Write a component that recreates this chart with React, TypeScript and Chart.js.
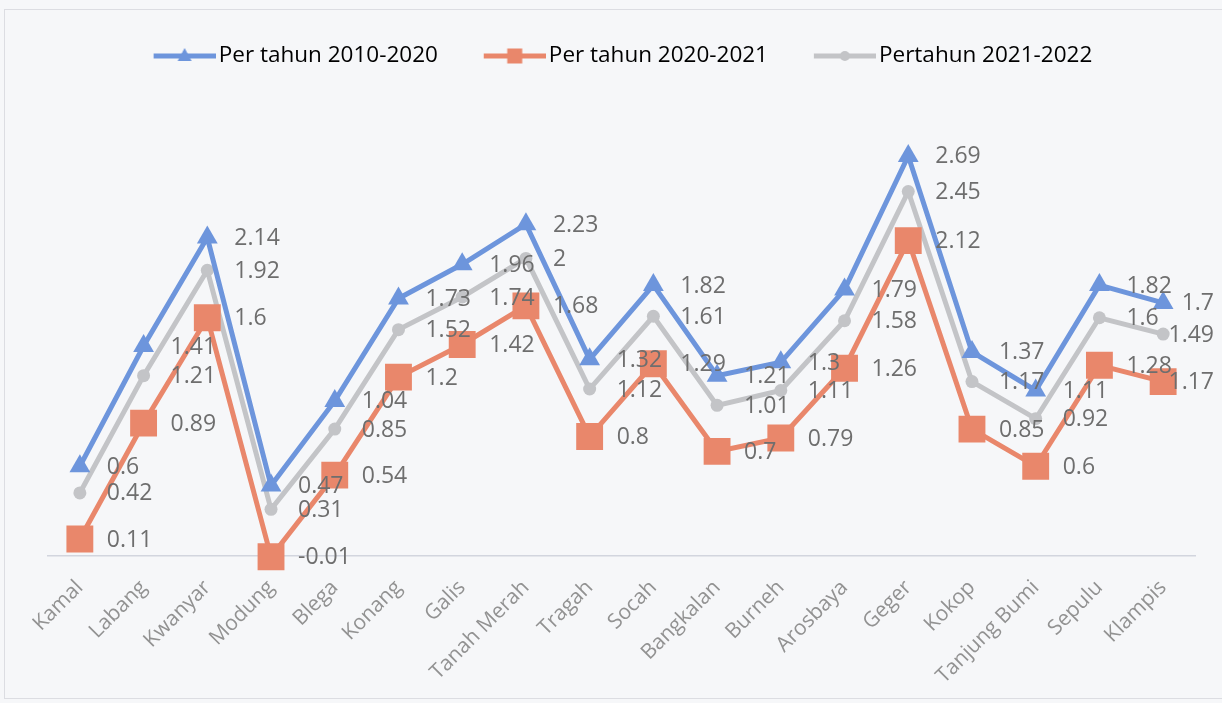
import React, { useEffect, useRef } from "react";
import { Chart, registerables } from "chart.js";

Chart.register(...registerables);

const categories = [
  "Kamal", "Labang", "Kwanyar", "Modung", "Blega", "Konang", "Galis", "Tanah Merah", "Tragah",
  "Socah", "Bangkalan", "Burneh", "Arosbaya", "Geger", "Kokop", "Tanjung Bumi", "Sepulu", "Klampis",
];
const series2010to2020 = [0.6, 1.41, 2.14, 0.47, 1.04, 1.73, 1.96, 2.23, 1.32, 1.82, 1.21, 1.3, 1.79, 2.69, 1.37, 1.11, 1.82, 1.7];
const series2020to2021 = [0.11, 0.89, 1.6, -0.01, 0.54, 1.2, 1.42, 1.68, 0.8, 1.29, 0.7, 0.79, 1.26, 2.12, 0.85, 0.6, 1.28, 1.17];
const series2021to2022 = [0.42, 1.21, 1.92, 0.31, 0.85, 1.52, 1.74, 2, 1.12, 1.61, 1.01, 1.11, 1.58, 2.45, 1.17, 0.92, 1.6, 1.49];
const seriesNames = ["Per tahun 2010-2020", "Per tahun 2020-2021", "Pertahun 2021-2022"];

const BLUE = "#6d95dc";
const ORANGE = "#e9876b";
const GRAY = "#c3c4c7";
const FONT = '"Open Sans", "Noto Sans", sans-serif';
const LEGEND_SIZE = 22.5;
const LEGEND_BOX = 56.75;

function makeLegendIcon(color: string, style: string): HTMLCanvasElement {
  const W = Math.round(LEGEND_BOX + 16.5);
  const H = 24;
  const c = document.createElement("canvas");
  c.width = W;
  c.height = H;
  const ctx = c.getContext("2d")!;
  const cy = H / 2;
  ctx.strokeStyle = color;
  ctx.lineWidth = 5;
  ctx.beginPath();
  ctx.moveTo(W - 62, cy);
  ctx.lineTo(W, cy);
  ctx.stroke();
  ctx.fillStyle = color;
  const cx = W - 31;
  ctx.beginPath();
  if (style === "triangle") {
    ctx.moveTo(cx, cy - 8);
    ctx.lineTo(cx + 7, cy + 5);
    ctx.lineTo(cx - 7, cy + 5);
    ctx.closePath();
  } else if (style === "rect") {
    ctx.rect(cx - 7.5, cy - 7.5, 15, 15);
  } else {
    ctx.arc(cx, cy, 5, 0, Math.PI * 2);
  }
  ctx.fill();
  return c;
}

const valueLabels = {
  id: "valueLabels",
  afterDatasetsDraw(chart: any) {
    const ctx = chart.ctx;
    ctx.save();
    ctx.font = `23px ${FONT}`;
    ctx.fillStyle = "#6e6e6e";
    ctx.textAlign = "left";
    ctx.textBaseline = "middle";
    const limit = chart.width - 8;
    chart.data.datasets.forEach((ds: any, di: number) => {
      const meta = chart.getDatasetMeta(di);
      meta.data.forEach((pt: any, i: number) => {
        const txt = String(ds.data[i]);
        const w = ctx.measureText(txt).width;
        const x = Math.min(pt.x + 27, limit - w);
        ctx.fillText(txt, x, pt.y + 1);
      });
    });
    ctx.restore();
  },
};

export default function App() {
  const ref = useRef<HTMLCanvasElement | null>(null);

  useEffect(() => {
    if (!ref.current) return;
    const styles = ["triangle", "rect", "circle"];
    const colors = [BLUE, ORANGE, GRAY];
    const icons = styles.map((s, i) => makeLegendIcon(colors[i], s));
    const chart = new Chart(ref.current, {
      type: "line",
      data: {
        labels: categories,
        datasets: [
          {
            label: seriesNames[0],
            data: series2010to2020,
            borderColor: BLUE,
            backgroundColor: BLUE,
            pointStyle: "triangle",
            pointRadius: 12,
            pointBorderWidth: 0,
          },
          {
            label: seriesNames[1],
            data: series2020to2021,
            borderColor: ORANGE,
            backgroundColor: ORANGE,
            pointStyle: "rect",
            pointRadius: 19,
            pointBorderWidth: 0,
          },
          {
            label: seriesNames[2],
            data: series2021to2022,
            borderColor: GRAY,
            backgroundColor: GRAY,
            pointStyle: "circle",
            pointRadius: 6.5,
            pointBorderWidth: 0,
          },
        ],
      },
      options: {
        responsive: false,
        animation: false,
        events: [],
        elements: { line: { borderWidth: 5, tension: 0, fill: false } },
        layout: { padding: { top: 1.75, left: 48, right: 27, bottom: 118 } },
        plugins: {
          tooltip: { enabled: false },
          legend: {
            display: true,
            position: "top",
            labels: {
              usePointStyle: true,
              pointStyleWidth: LEGEND_BOX,
              padding: 43,
              color: "#747474",
              font: { family: FONT, size: LEGEND_SIZE },
              generateLabels: (ch: any) =>
                ch.data.datasets.map((ds: any, i: number) => ({
                  text: ds.label,
                  pointStyle: icons[i],
                  fillStyle: colors[i],
                  strokeStyle: colors[i],
                  lineWidth: 0,
                  hidden: false,
                  datasetIndex: i,
                })),
            },
          },
        },
        scales: {
          x: {
            type: "category",
            offset: true,
            position: { y: 0 } as any,
            grid: { display: false, drawTicks: false },
            border: { display: true, color: "#d2d5de", width: 1.5 },
            ticks: {
              autoSkip: false,
              minRotation: 45,
              maxRotation: 45,
              padding: 20,
              color: "#929292",
              font: { family: FONT, size: 21 },
            },
          },
          y: { display: false, min: -0.2, max: 3.22 },
        },
      },
      plugins: [valueLabels],
    });
    return () => chart.destroy();
  }, []);

  return (
    <div style={{ position: "fixed", left: 0, top: 0, width: 1222, height: 703, background: "#f6f7f9" }}>
      <div
        style={{
          position: "absolute",
          left: 4,
          top: 9,
          width: 1222,
          height: 690,
          border: "1px solid #dcdde2",
          boxSizing: "border-box",
        }}
      />
      <canvas ref={ref} width={1222} height={703} style={{ position: "absolute", left: 0, top: 0 }} />
    </div>
  );
}
